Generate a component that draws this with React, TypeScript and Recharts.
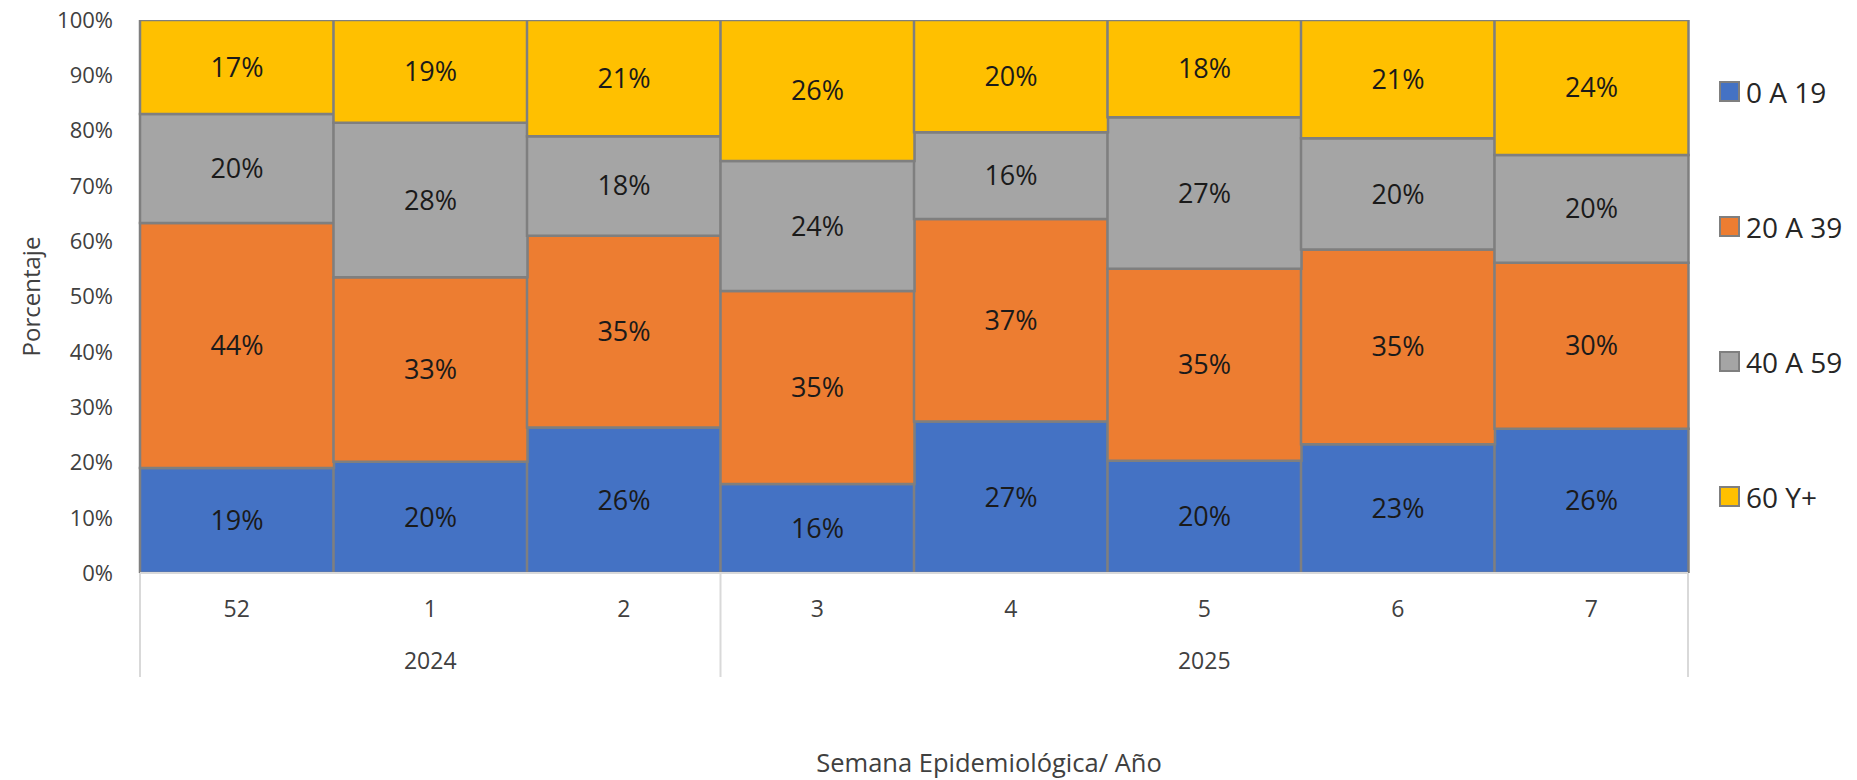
import { BarChart, Bar, XAxis, YAxis, Legend, LabelList, Label } from "recharts";

const weeks = ["52", "1", "2", "3", "4", "5", "6", "7"];
const years = ["2024", "2024", "2024", "2025", "2025", "2025", "2025", "2025"];

const age0to19 = [19.0, 20.1, 26.3, 16.1, 27.4, 20.3, 23.3, 26.1];
const age20to39 = [44.3, 33.4, 34.7, 34.9, 36.6, 34.7, 35.2, 30.0];
const age40to59 = [19.7, 27.9, 18.0, 23.5, 15.7, 27.4, 20.1, 19.5];
const age60plus = [17.0, 18.6, 21.0, 25.5, 20.3, 17.6, 21.4, 24.4];

const seriesNames = ["0 A 19", "20 A 39", "40 A 59", "60 Y+"];
const seriesColors = ["#4472C4", "#ED7D31", "#A5A5A5", "#FFC000"];
const yTicks = [0, 10, 20, 30, 40, 50, 60, 70, 80, 90, 100];

const data = weeks.map((w, i) => ({
  week: w,
  year: years[i],
  a: age0to19[i],
  b: age20to39[i],
  c: age40to59[i],
  d: age60plus[i],
}));

const CHART_W = 1857;
const CHART_H = 780;
const MARGIN = { top: 20, right: 169, left: 80, bottom: 87 };
const Y_W = 60;
const X_H = 120;
const PLOT_W = CHART_W - MARGIN.left - Y_W - MARGIN.right;
const BAND = PLOT_W / weeks.length;

const FONT = "'Open Sans', 'Noto Sans', sans-serif";
const AXIS_TEXT = "#404040";

function WeekTick(props: any) {
  const { x, y, payload } = props;
  const i = weeks.indexOf(String(payload.value));
  const yr = years[i];
  const isStart = i === 0 || years[i - 1] !== yr;
  const isLast = i === weeks.length - 1;
  const groupLen = years.filter((v) => v === yr).length;
  return (
    <g>
      <text x={x} y={y + 35} textAnchor="middle" dominantBaseline="central" fontSize={23} fill={AXIS_TEXT} fontFamily={FONT}>
        {payload.value}
      </text>
      {isStart && (
        <line x1={x - BAND / 2} x2={x - BAND / 2} y1={y} y2={y + 104} stroke="#d9d9d9" strokeWidth={2} />
      )}
      {isStart && (
        <text
          x={x + ((groupLen - 1) / 2) * BAND}
          y={y + 87}
          textAnchor="middle"
          dominantBaseline="central"
          fontSize={23}
          fill={AXIS_TEXT}
          fontFamily={FONT}
        >
          {yr}
        </text>
      )}
      {isLast && (
        <line x1={x + BAND / 2} x2={x + BAND / 2} y1={y} y2={y + 104} stroke="#d9d9d9" strokeWidth={2} />
      )}
    </g>
  );
}

function renderLegend(props: any) {
  const items = props.payload || [];
  return (
    <div style={{ fontFamily: FONT }}>
      {items.map((it: any, i: number) => (
        <div
          key={i}
          style={{ height: 135, display: "flex", alignItems: "center", gap: 6, fontSize: 28, color: "#262626" }}
        >
          <span
            style={{
              width: 17,
              height: 17,
              background: it.color,
              border: "2px solid #7F7F7F",
              display: "inline-block",
              flexShrink: 0,
            }}
          />
          <span>{it.value}</span>
        </div>
      ))}
    </div>
  );
}

export default function App() {
  const cols = ["a", "b", "c", "d"];
  return (
    <div style={{ fontFamily: FONT, position: "absolute", left: 0, top: 0, width: CHART_W, height: CHART_H }}>
      <BarChart
        width={CHART_W}
        height={CHART_H}
        data={data}
        margin={MARGIN}
        barCategoryGap={0}
        style={{ fontFamily: FONT }}
      >
        <XAxis
          dataKey="week"
          height={X_H}
          interval={0}
          tickLine={false}
          tickSize={0}
          tickMargin={0}
          axisLine={{ stroke: "#d9d9d9", strokeWidth: 2 }}
          tick={<WeekTick />}
        >
          <Label
            content={() => (
              <text x={989} y={762} textAnchor="middle" dominantBaseline="central" fontSize={25.5} fill={AXIS_TEXT} fontFamily={FONT}>
                Semana Epidemiológica/ Año
              </text>
            )}
          />
        </XAxis>
        <YAxis
          width={Y_W}
          domain={[0, 100]}
          ticks={yTicks}
          allowDataOverflow
          tickFormatter={(v: number) => `${v}%`}
          axisLine={false}
          tickLine={false}
          tickSize={0}
          tickMargin={27}
          tick={{ fontSize: 22, fill: AXIS_TEXT, fontFamily: FONT }}
        >
          <Label
            content={(p: any) => {
              const vb = p.viewBox || {};
              const cy = (vb.y ?? 20) + (vb.height ?? 553) / 2;
              return (
                <text
                  x={30}
                  y={cy}
                  transform={`rotate(-90, 30, ${cy})`}
                  textAnchor="middle"
                  dominantBaseline="central"
                  fontSize={24}
                  fill={AXIS_TEXT}
                  fontFamily={FONT}
                >
                  Porcentaje
                </text>
              );
            }}
          />
        </YAxis>
        <Legend
          layout="vertical"
          align="center"
          verticalAlign="middle"
          content={renderLegend}
          wrapperStyle={{ position: "absolute", left: 1719, top: 24, width: 138 }}
        />
        {cols.map((k, i) => (
          <Bar
            key={k}
            dataKey={k}
            name={seriesNames[i]}
            stackId="s"
            fill={seriesColors[i]}
            stroke="#7F7F7F"
            strokeWidth={2.5}
            isAnimationActive={false}
          >
            <LabelList
              dataKey={k}
              position="center"
              formatter={(v: any) => `${Math.round(Number(v))}%`}
              fill="#1a1a1a"
              fontSize={27}
              fontFamily={FONT}
            />
          </Bar>
        ))}
      </BarChart>
    </div>
  );
}
